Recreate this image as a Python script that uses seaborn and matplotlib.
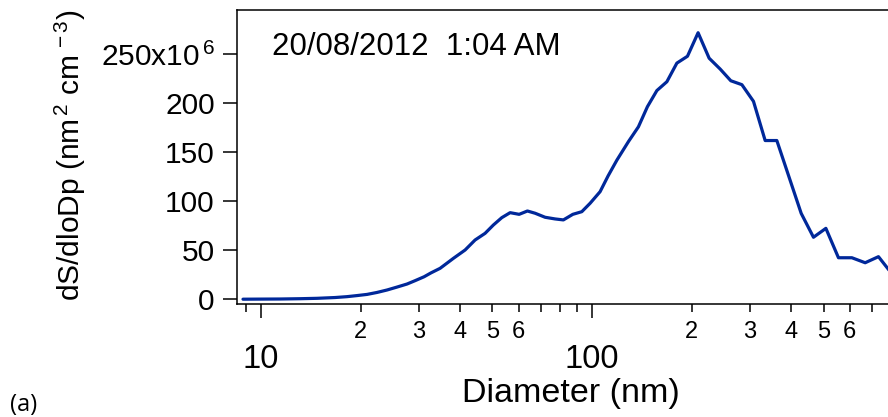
import numpy as np
import pandas as pd
import matplotlib
matplotlib.use("Agg")
import matplotlib.pyplot as plt
import matplotlib.ticker as mticker
import seaborn as sns

# ---- data ----
diameter_nm = [8.82, 9.93, 11.41, 13.11, 14.76, 16.73, 18.19, 19.50, 20.91, 22.41,
               24.03, 25.76, 27.61, 29.19, 31.08, 32.63, 34.74, 38.11, 41.34, 44.31,
               47.50, 50.32, 53.35, 56.54, 60.20, 63.77, 67.28, 72.11, 77.29, 81.89,
               87.44, 93.09, 98.63, 105.7, 111.8, 118.8, 128.8, 138.0, 146.9, 156.9,
               168.2, 180.3, 194.1, 209.0, 225.7, 243.6, 262.4, 283.4, 307.2, 333.2,
               361.4, 393.2, 428.1, 466.3, 508.3, 554.8, 609.1, 668.1, 732.8, 800.4]
dS_dlogDp_1e6 = [0.1, 0.2, 0.3, 0.6, 1.0, 1.8, 2.7, 3.8, 5.0, 7.0,
                 9.5, 12.5, 15.6, 19.0, 23.0, 27.0, 31.6, 41.8, 50.3, 60.5,
                 67.3, 75.8, 83.3, 88.4, 86.7, 90.1, 87.8, 83.7, 82.0, 81.0,
                 86.7, 89.4, 98.0, 109.8, 126.0, 142.0, 161.0, 176.0, 196.5, 213.0,
                 222.0, 241.0, 248.0, 272.0, 246.0, 235.0, 223.0, 219.0, 202.0, 162.0,
                 162.0, 125.0, 87.7, 63.3, 72.4, 42.4, 42.4, 37.3, 43.5, 27.0]
y_ticks = [0, 50, 100, 150, 200, 250]
y_tick_labels = ["0", "50", "100", "150", "200", "250x10$^{\\,6}$"]
minor_label_digits = ["2", "3", "4", "5", "6"]
annotation = "20/08/2012  1:04 AM"
x_label = "Diameter (nm)"
y_label = r"dS/dloDp (nm$^{\,2}$ cm$^{\,-3}$)"
panel_label = "(a)"

df = pd.DataFrame({"D": diameter_nm, "S": dS_dlogDp_1e6})

sns.set_theme(style="ticks")
plt.rcParams["font.family"] = ["Liberation Sans", "DejaVu Sans"]
plt.rcParams["mathtext.fontset"] = "custom"
plt.rcParams["mathtext.rm"] = "Liberation Sans"
plt.rcParams["mathtext.it"] = "Liberation Sans:italic"
plt.rcParams["mathtext.bf"] = "Liberation Sans:bold"
plt.rcParams["text.color"] = "black"
plt.rcParams["axes.labelcolor"] = "black"
plt.rcParams["xtick.color"] = "black"
plt.rcParams["ytick.color"] = "black"

W, H = 888, 417
fig = plt.figure(figsize=(W / 100, H / 100), dpi=100)
ax = fig.add_axes([237 / W, (H - 304) / H, (W - 237) / W, (304 - 10) / H])

sns.lineplot(data=df, x="D", y="S", ax=ax, color="#00289a", linewidth=2.3,
             estimator=None, sort=False, legend=False)

ax.set_xscale("log")
ax.set_xlim(8.46, 783)
ax.set_ylim(-4.8, 295.2)

ax.set_yticks(y_ticks)
ax.set_yticklabels(y_tick_labels)

ax.xaxis.set_major_locator(mticker.LogLocator(base=10))
ax.xaxis.set_minor_locator(mticker.LogLocator(base=10, subs=np.arange(2, 10)))
ax.xaxis.set_major_formatter(mticker.FuncFormatter(lambda v, p: f"{v:g}"))

def minor_fmt(v, p):
    m = v / 10 ** np.floor(np.log10(v) + 1e-9)
    s = f"{round(m):d}"
    return s if s in minor_label_digits else ""

ax.xaxis.set_minor_formatter(mticker.FuncFormatter(minor_fmt))

for side in ["left", "top", "bottom"]:
    ax.spines[side].set_linewidth(1.1)
    ax.spines[side].set_color("black")
ax.spines["right"].set_visible(False)

ax.tick_params(axis="y", which="major", direction="out", length=10, width=1.1,
               labelsize=21.5, pad=6, colors="black")
ax.tick_params(axis="x", which="major", direction="out", length=10, width=1.1,
               labelsize=23.5, pad=19, colors="black")
ax.tick_params(axis="x", which="minor", direction="out", length=5.5, width=1.1,
               labelsize=17, pad=7, colors="black")
ax.set_xlabel("")
ax.set_ylabel("")

fig.text(571 / W, 1 - 401.7 / H, x_label, ha="center", va="baseline", fontsize=24.5)
fig.text(70 / W, 1 - 155 / H, y_label, ha="center", va="center", rotation=90, fontsize=21.5)
fig.text(272 / W, 1 - 55 / H, annotation, ha="left", va="baseline", fontsize=22.5)
fig.text(10 / W, 1 - 410.7 / H, panel_label, ha="left", va="baseline", fontsize=17,
         family=["Open Sans", "DejaVu Sans"])

fig.savefig("out.png", dpi=100)
